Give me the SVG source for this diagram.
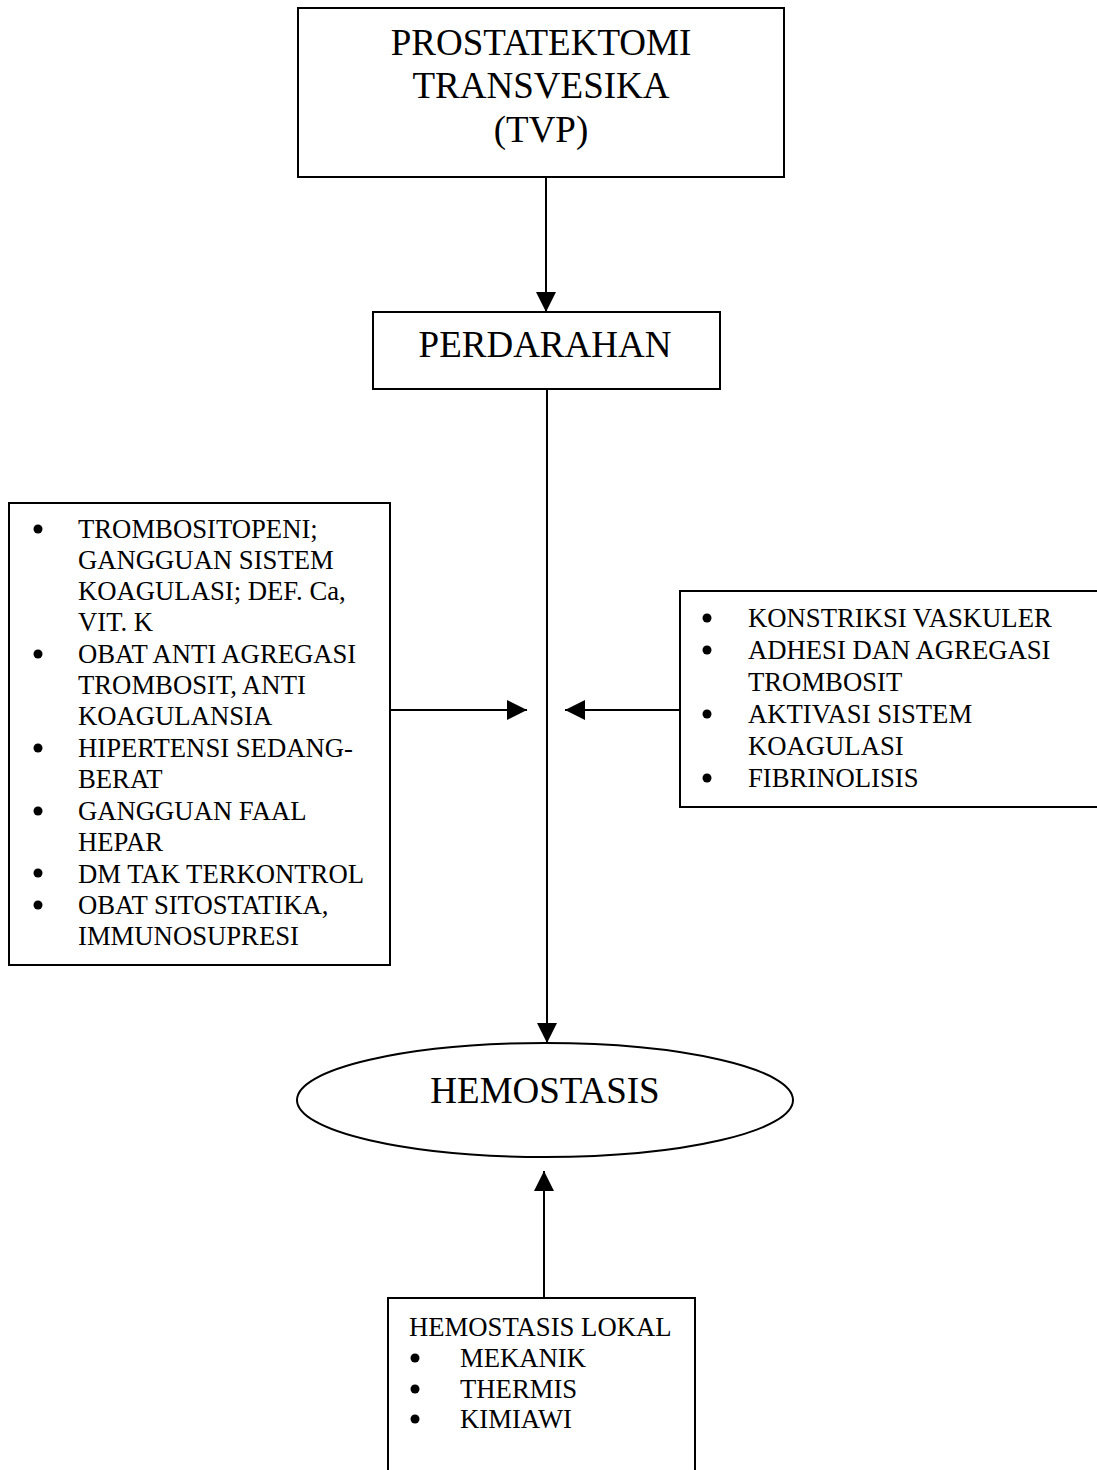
<svg xmlns="http://www.w3.org/2000/svg" width="1097" height="1470" viewBox="0 0 1097 1470">
<style>
.box{fill:#fff;stroke:#000;stroke-width:2}
.t{font-family:"Liberation Serif","Times New Roman",serif;fill:#000}
.big{font-size:37px}
.sm{font-size:26.7px}
.c{text-anchor:middle}
.con{stroke:#000;stroke-width:2;fill:none}
</style>
<defs>
<marker id="ah" viewBox="0 0 20 20" refX="20" refY="10" markerWidth="20" markerHeight="20" markerUnits="userSpaceOnUse" orient="auto"><path d="M0,0 L20,10 L0,20 z" fill="#000"/></marker>
</defs>
<rect width="1097" height="1470" fill="#fff"/>
<g id="connectors">
<line class="con" x1="546" y1="178" x2="546" y2="312" marker-end="url(#ah)"/>
<line class="con" x1="547" y1="389" x2="547" y2="1043" marker-end="url(#ah)"/>
<line class="con" x1="390" y1="710" x2="527" y2="710" marker-end="url(#ah)"/>
<line class="con" x1="679" y1="710" x2="565" y2="710" marker-end="url(#ah)"/>
<line class="con" x1="544" y1="1298" x2="544" y2="1171" marker-end="url(#ah)"/>
</g>
<g id="node-tvp">
<rect class="box" x="298" y="8" width="486" height="169"/>
<text class="t big c" x="541" y="55">PROSTATEKTOMI</text>
<text class="t big c" x="541" y="98">TRANSVESIKA</text>
<text class="t big c" x="541" y="142">(TVP)</text>
</g>
<g id="node-perdarahan">
<rect class="box" x="373" y="312" width="347" height="77"/>
<text class="t big c" x="545" y="357">PERDARAHAN</text>
</g>
<g id="node-faktor-kiri">
<rect class="box" x="9" y="503" width="381" height="462"/>
<g fill="#000">
<circle cx="38" cy="529" r="4.5"/>
<circle cx="38" cy="654" r="4.5"/>
<circle cx="38" cy="748" r="4.5"/>
<circle cx="38" cy="811" r="4.5"/>
<circle cx="38" cy="873" r="4.5"/>
<circle cx="38" cy="905" r="4.5"/>
</g>
<text class="t sm" x="78" y="538">TROMBOSITOPENI;</text>
<text class="t sm" x="78" y="569">GANGGUAN SISTEM</text>
<text class="t sm" x="78" y="600">KOAGULASI; DEF. Ca,</text>
<text class="t sm" x="78" y="631">VIT. K</text>
<text class="t sm" x="78" y="663">OBAT ANTI AGREGASI</text>
<text class="t sm" x="78" y="694">TROMBOSIT, ANTI</text>
<text class="t sm" x="78" y="725">KOAGULANSIA</text>
<text class="t sm" x="78" y="757">HIPERTENSI SEDANG-</text>
<text class="t sm" x="78" y="788">BERAT</text>
<text class="t sm" x="78" y="820">GANGGUAN FAAL</text>
<text class="t sm" x="78" y="851">HEPAR</text>
<text class="t sm" x="78" y="883">DM TAK TERKONTROL</text>
<text class="t sm" x="78" y="914">OBAT SITOSTATIKA,</text>
<text class="t sm" x="78" y="945">IMMUNOSUPRESI</text>
</g>
<g id="node-faktor-kanan">
<rect class="box" x="680" y="591" width="430" height="216"/>
<g fill="#000">
<circle cx="707" cy="618" r="4.5"/>
<circle cx="707" cy="650" r="4.5"/>
<circle cx="707" cy="714" r="4.5"/>
<circle cx="707" cy="778" r="4.5"/>
</g>
<text class="t sm" x="748" y="627">KONSTRIKSI VASKULER</text>
<text class="t sm" x="748" y="659">ADHESI DAN AGREGASI</text>
<text class="t sm" x="748" y="691">TROMBOSIT</text>
<text class="t sm" x="748" y="723">AKTIVASI SISTEM</text>
<text class="t sm" x="748" y="755">KOAGULASI</text>
<text class="t sm" x="748" y="787">FIBRINOLISIS</text>
</g>
<g id="node-hemostasis">
<ellipse class="box" cx="545" cy="1100" rx="248" ry="57"/>
<text class="t big c" x="545" y="1103">HEMOSTASIS</text>
</g>
<g id="node-hemostasis-lokal">
<rect class="box" x="388" y="1298" width="307" height="190"/>
<g fill="#000">
<circle cx="415" cy="1358" r="4.5"/>
<circle cx="415" cy="1389" r="4.5"/>
<circle cx="415" cy="1419" r="4.5"/>
</g>
<text class="t sm" x="409" y="1336">HEMOSTASIS LOKAL</text>
<text class="t sm" x="460" y="1367">MEKANIK</text>
<text class="t sm" x="460" y="1398">THERMIS</text>
<text class="t sm" x="460" y="1428">KIMIAWI</text>
</g>
</svg>
